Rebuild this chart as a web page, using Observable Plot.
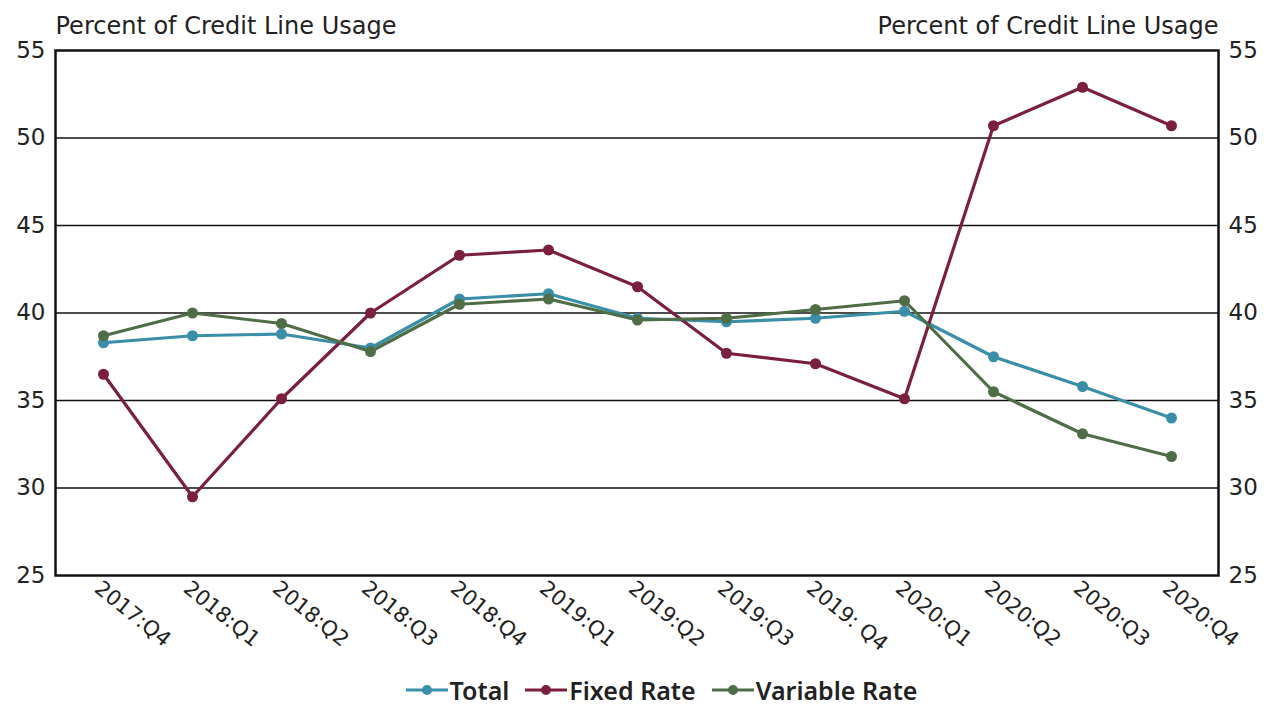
<!DOCTYPE html>
<html>
<head>
<meta charset="utf-8">
<script src="https://cdn.jsdelivr.net/npm/d3@7"></script>
<script src="https://cdn.jsdelivr.net/npm/@observablehq/plot@0.6"></script>
<style>
  html, body { margin: 0; padding: 0; background: #fff; }
  #wrap { width: 1271px; height: 709px; position: relative; font-family: "DejaVu Sans", sans-serif; color: #222; }
  #legend { position: absolute; left: 0; top: 673px; width: 1271px; display: flex; justify-content: center; align-items: center; gap: 16px; font-size: 25px; font-weight: 600; font-family: "Noto Sans", "DejaVu Sans", sans-serif; padding-left: 52px; box-sizing: border-box; }
  .item { display: flex; align-items: center; }
  .item svg { margin-right: 2px; }
</style>
</head>
<body>
<div id="wrap">
  <div id="chart"></div>
  <div id="legend"></div>
</div>
<script>
const quarters = ["2017:Q4","2018:Q1","2018:Q2","2018:Q3","2018:Q4","2019:Q1","2019:Q2","2019:Q3","2019: Q4","2020:Q1","2020:Q2","2020:Q3","2020:Q4"];
const total    = [38.3, 38.7, 38.8, 38.0, 40.8, 41.1, 39.7, 39.5, 39.7, 40.1, 37.5, 35.8, 34.0];
const fixed    = [36.5, 29.5, 35.1, 40.0, 43.3, 43.6, 41.5, 37.7, 37.1, 35.1, 50.7, 52.9, 50.7];
const variable = [38.7, 40.0, 39.4, 37.8, 40.5, 40.8, 39.6, 39.7, 40.2, 40.7, 35.5, 33.1, 31.8];
const seriesNames = ["Total", "Fixed Rate", "Variable Rate"];
const seriesColors = ["#3a8ea8", "#7a1f3f", "#4f6d47"];
const yTicks = [25, 30, 35, 40, 45, 50, 55];
const gridValues = [30, 35, 40, 45, 50];
const axisTitle = "Percent of Credit Line Usage";

const seriesValues = [total, fixed, variable];
const data = [];
seriesNames.forEach((s, i) => quarters.forEach((q, j) => data.push({series: s, quarter: q, value: seriesValues[i][j]})));

const font = "DejaVu Sans, sans-serif";
const chart = Plot.plot({
  width: 1271,
  height: 665,
  marginLeft: 55,
  marginRight: 53,
  marginTop: 50,
  marginBottom: 90,
  style: {fontFamily: font, fontSize: "23px", color: "#222", background: "#fff"},
  x: {type: "point", domain: quarters, padding: 0.5},
  y: {domain: [25, 55]},
  color: {domain: seriesNames, range: seriesColors},
  marks: [
    Plot.ruleY(gridValues, {stroke: "#111", strokeWidth: 1.6}),
    Plot.frame({stroke: "#111", strokeWidth: 2.5}),
    Plot.line(data, {x: "quarter", y: "value", z: "series", stroke: "series", strokeWidth: 3.2}),
    Plot.dot(data, {x: "quarter", y: "value", fill: "series", r: 5.5}),
    Plot.axisY({anchor: "left", ticks: yTicks, tickSize: 0, tickPadding: 10, label: null, fontSize: 23}),
    Plot.axisY({anchor: "right", ticks: yTicks, tickSize: 0, tickPadding: 10, label: null, fontSize: 23}),
    Plot.axisX({tickSize: 0, tickRotate: 39, tickPadding: 10, dx: -6, label: null, fontSize: 21}),
    Plot.text([axisTitle], {frameAnchor: "top-left", text: d => d, dy: -34, textAnchor: "start", fontSize: 24, fill: "#222"}),
    Plot.text([axisTitle], {frameAnchor: "top-right", text: d => d, dy: -34, textAnchor: "end", fontSize: 24, fill: "#222"})
  ]
});
document.getElementById("chart").appendChild(chart);

const legend = document.getElementById("legend");
seriesNames.forEach((s, i) => {
  const item = document.createElement("div");
  item.className = "item";
  item.innerHTML = `<svg width="42" height="14"><line x1="0" y1="7" x2="42" y2="7" stroke="${seriesColors[i]}" stroke-width="3"/><circle cx="21" cy="7" r="5" fill="${seriesColors[i]}"/></svg><span>${s}</span>`;
  legend.appendChild(item);
});
</script>
</body>
</html>
